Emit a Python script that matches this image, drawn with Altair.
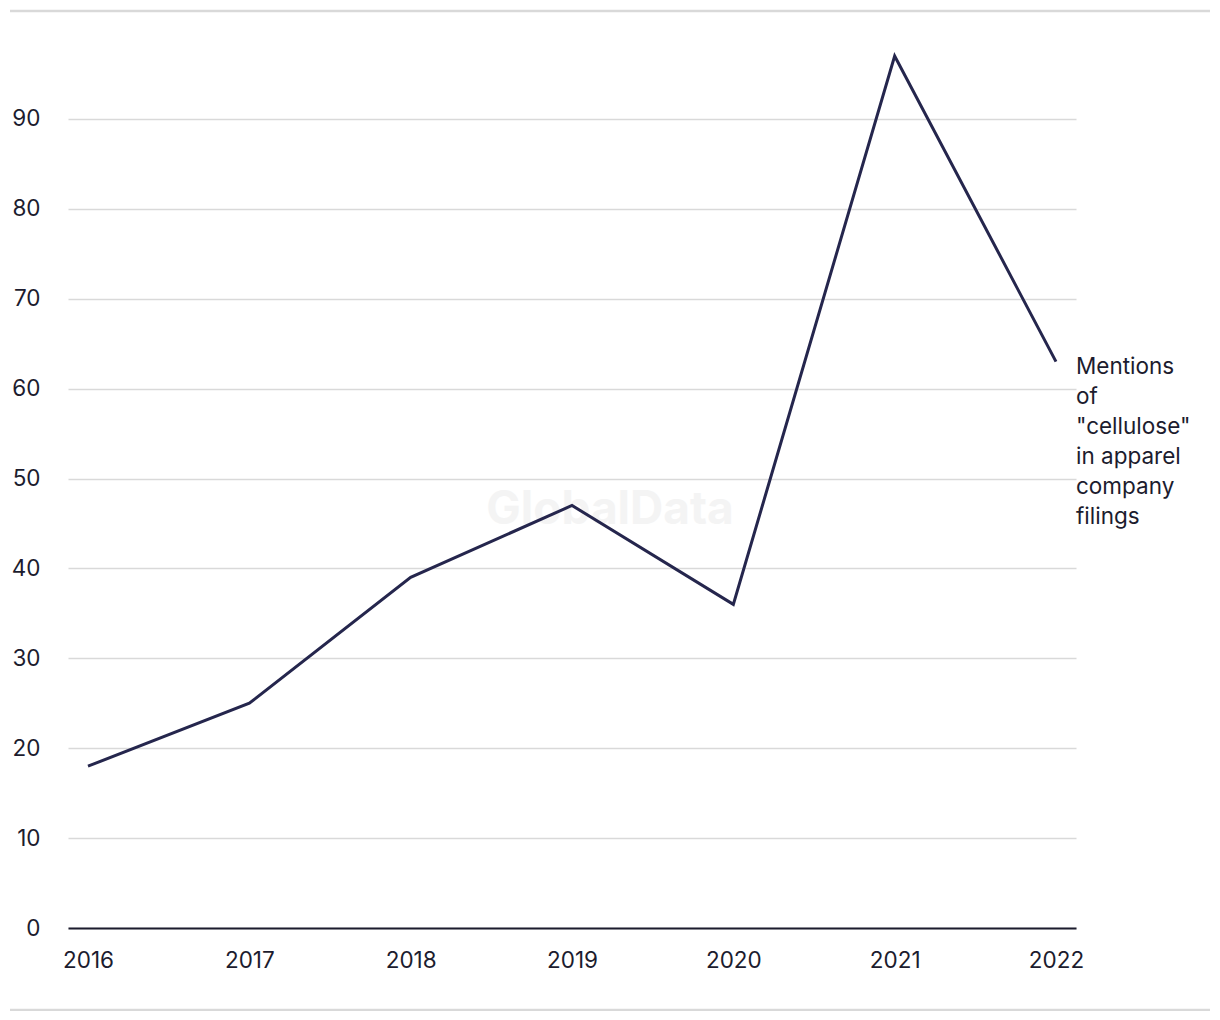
import altair as alt
import pandas as pd

years = ["2016", "2017", "2018", "2019", "2020", "2021", "2022"]
mentions = [18, 25, 39, 47, 36, 97, 63]
y_ticks = [0, 10, 20, 30, 40, 50, 60, 70, 80, 90]
series_label = ["Mentions", "of", "\"cellulose\"", "in apparel", "company", "filings"]

df = pd.DataFrame({"year": years, "value": mentions})
lab = pd.DataFrame({"year": [years[-1]], "value": [mentions[-1]], "label": ["\n".join(series_label)]})
wm = pd.DataFrame({"t": ["GlobalData"]})

FONT = "Inter"
INK = "#1c1c2e"
LINE = "#25264d"
FS = 22.5

x_enc = alt.X("year:O", scale=alt.Scale(type="point", padding=0.124),
              axis=alt.Axis(title=None, labelAngle=0, labelFontSize=FS, labelColor=INK,
                            labelFont=FONT, labelPadding=21, ticks=False, domain=True,
                            domainColor=INK, domainWidth=2, grid=False))
y_enc = alt.Y("value:Q", scale=alt.Scale(domain=[0, 100], nice=False),
              axis=alt.Axis(title=None, values=y_ticks, labelFontSize=FS, labelColor=INK,
                            labelFont=FONT, labelPadding=28, ticks=False, domain=False,
                            grid=True, gridColor="#d9d9d9", gridWidth=1.5))

watermark = alt.Chart(wm).mark_text(font=FONT, fontSize=46, fontWeight="bold", color="#f4f4f4").encode(
    x=alt.value(542), y=alt.value(481), text="t:N")

line = alt.Chart(df).mark_line(color=LINE, strokeWidth=3).encode(x=x_enc, y=y_enc)

label = alt.Chart(lab).mark_text(align="left", baseline="top", dx=20, dy=-6, fontSize=FS,
                                 font=FONT, color=INK, lineHeight=30, lineBreak="\n").encode(
    x="year:O", y="value:Q", text="label:N")

top_rule = alt.Chart(wm).mark_rule(color="#d9d9d9", strokeWidth=2.5).encode(
    x=alt.value(-58), x2=alt.value(1142), y=alt.value(-18))
bot_rule = alt.Chart(wm).mark_rule(color="#d9d9d9", strokeWidth=2.5).encode(
    x=alt.value(-58), x2=alt.value(1142), y=alt.value(981))

chart = alt.layer(watermark, line, label, top_rule, bot_rule).properties(
    width=1008, height=899,
    background="white",
    autosize=alt.AutoSizeParams(type="none"),
    padding={"left": 60, "top": 21, "right": 134, "bottom": 83},
).configure_view(strokeWidth=0, stroke=None)

chart.save("out.html", embed_options={"renderer": "svg", "actions": False})
